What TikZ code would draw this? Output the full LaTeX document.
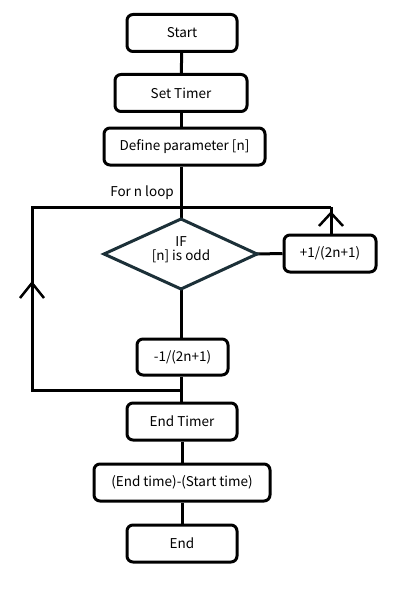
\documentclass[tikz,border=0pt]{standalone}
\usepackage{fontspec}
\setmainfont{Noto Sans CJK JP}
\begin{document}
\begin{tikzpicture}[x=1pt,y=-1pt,
  txt/.style={font=\fontsize{13.5}{15}\selectfont},
  box/.style={draw=black,line width=3pt,rounded corners=6pt,fill=white,inner sep=0pt,txt},
  conn/.style={line width=3pt},
  chev/.style={line width=2.5pt,line cap=butt}]
\useasboundingbox (0,0) rectangle (403,591);
\node[box,minimum width=110,minimum height=37] (start) at (182,33) {Start};
\node[box,minimum width=132,minimum height=37] (timer) at (181,93) {Set Timer};
\node[box,minimum width=161,minimum height=37] (def) at (184.5,146.5) {Define parameter [n]};
\coordinate (dl) at (104,254);
\coordinate (dr) at (257,254);
\coordinate (dt) at (181,219);
\coordinate (db) at (181,289);
\node[box,minimum width=92,minimum height=37] (plus) at (330,253.5) {+1/(2n+1)};
\node[box,minimum width=91,minimum height=36] (minus) at (182.5,357) {-1/(2n+1)};
\node[box,minimum width=110,minimum height=37] (etimer) at (182,421.5) {End Timer};
\node[box,minimum width=176,minimum height=37] (diff) at (182,482.5) {(End time)-(Start time)};
\node[box,minimum width=110,minimum height=37] (end) at (182,543.5) {End};
\coordinate (ltop) at (32,207);
\coordinate (rtop) at (331,207);
\coordinate (lbot) at (32,390);
\coordinate (mbot) at (181,390);
% connectors
\draw[conn] (start) -- (timer);
\draw[conn] (timer.south) -- (timer.south |- def.north);
\draw[conn] (dt |- def.south) -- (dt);
\draw[conn,line join=miter] (rtop) -- (ltop) -- (lbot) -- (mbot);
\draw[conn] (db) -- (db |- minus.north);
\draw[conn] (db |- minus.south) -- (db |- etimer.north);
\draw[conn] (dr) -- (plus.west);
\draw[conn] (rtop |- plus.north) -- (rtop);
\draw[conn] (etimer) -- (diff);
\draw[conn] (diff) -- (end);
% diamond
\draw[draw={rgb,255:red,28;green,48;blue,56},line width=3pt,fill=white,line join=miter] (dt) -- (dr) -- (db) -- (dl) -- cycle;
\node[txt,align=center,inner sep=0pt] (dtext) at (181,250) {IF\\[-1pt][n] is odd};
% chevrons
\coordinate (la) at (32,283);
\draw[chev] (20,298) -- (la) -- (44,298);
\coordinate (ra) at (331,213);
\draw[chev] (319,226) -- (ra) -- (343,226);
\node[txt,anchor=east,inner sep=0pt] (forlab) at (174,193) {For n loop};
\end{tikzpicture}
\end{document}
